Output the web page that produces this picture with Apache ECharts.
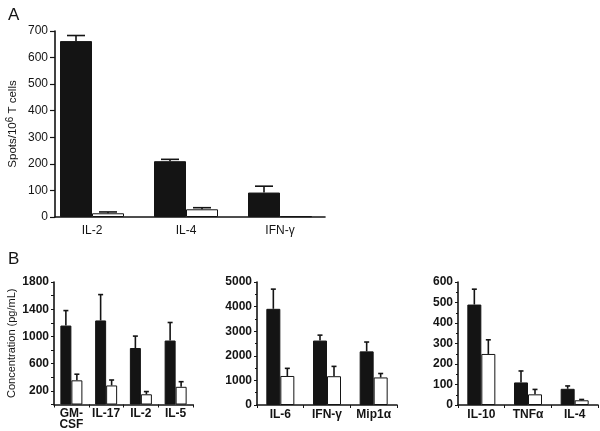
<!DOCTYPE html>
<html><head><meta charset="utf-8">
<script src="https://cdn.jsdelivr.net/npm/echarts@6/dist/echarts.min.js"></script>
<style>html,body{margin:0;padding:0;background:#fff}#c{width:600px;height:431px}</style>
</head><body><div id="c"></div>
<script>
// Panel A
const catsA = ['IL-2', 'IL-4', 'IFN-γ'];
const aBlack = [662, 210, 92];
const aBlackErr = [21, 7, 24];
const aWhite = [14, 29, 3];
const aWhiteErr = [5, 6, 0];
const ticksA = [0, 700, 100];
// Panel B1
const catsB1 = ['GM-\nCSF', 'IL-17', 'IL-2', 'IL-5'];
const b1Black = [1160, 1235, 830, 940];
const b1BlackErr = [220, 380, 175, 265];
const b1White = [355, 280, 150, 260];
const b1WhiteErr = [90, 80, 40, 75];
// Panel B2
const catsB2 = ['IL-6', 'IFN-γ', 'Mip1α'];
const b2Black = [3910, 2620, 2180];
const b2BlackErr = [800, 220, 380];
const b2White = [1180, 1170, 1120];
const b2WhiteErr = [310, 400, 160];
// Panel B3
const catsB3 = ['IL-10', 'TNFα', 'IL-4'];
const b3Black = [490, 110, 79];
const b3BlackErr = [75, 56, 14];
const b3White = [249, 52, 23];
const b3WhiteErr = [69, 24, 4];

const FONT = '"Liberation Sans", Arial, sans-serif';
const INK = '#141414';

function errRender(sign, barW, capW) {
  return function (params, api) {
    const x = api.value(0), v = api.value(1), e = api.value(2);
    if (!e) return null;
    const p0 = api.coord([x, v]);
    const p1 = api.coord([x, v + e]);
    const cx = p0[0] + sign * barW / 2;
    return {
      type: 'group',
      children: [
        { type: 'line', shape: { x1: cx, y1: p0[1], x2: cx, y2: p1[1] }, style: { stroke: INK, lineWidth: 1.6 } },
        { type: 'line', shape: { x1: cx - capW / 2, y1: p1[1], x2: cx + capW / 2, y2: p1[1] }, style: { stroke: INK, lineWidth: 1.6 } }
      ]
    };
  };
}

function barPair(gi, black, white, blackErr, whiteErr, barW, capW) {
  return [
    { type: 'bar', xAxisIndex: gi, yAxisIndex: gi, data: black, barWidth: barW, barGap: '0%',
      itemStyle: { color: INK, borderColor: INK, borderWidth: 1 }, animation: false },
    { type: 'bar', xAxisIndex: gi, yAxisIndex: gi, data: white, barWidth: barW, barGap: '0%',
      itemStyle: { color: '#fff', borderColor: INK, borderWidth: 1 }, animation: false },
    { type: 'custom', xAxisIndex: gi, yAxisIndex: gi, z: 5, animation: false,
      renderItem: errRender(-1, barW, capW), data: black.map((v, i) => [i, v, blackErr[i]]) },
    { type: 'custom', xAxisIndex: gi, yAxisIndex: gi, z: 5, animation: false,
      renderItem: errRender(1, barW, capW), data: white.map((v, i) => [i, v, whiteErr[i]]) }
  ];
}

const axisLineStyle = { show: true, lineStyle: { color: INK, width: 1.6 } };
const plain = v => String(v);

const chart = echarts.init(document.getElementById('c'), null, { renderer: 'canvas' });
chart.setOption({
  animation: false,
  backgroundColor: '#fff',
  title: [
    { text: 'A', left: 3, top: 2, textStyle: { fontFamily: FONT, fontSize: 17, fontWeight: 'normal', color: INK } },
    { text: 'B', left: 3, top: 246, textStyle: { fontFamily: FONT, fontSize: 17, fontWeight: 'normal', color: INK } }
  ],
  grid: [
    { left: 45, right: 273, top: 31, bottom: 214 },   // A bars
    { left: 55, right: 275, top: 31, bottom: 214 },   // A axes
    { left: 54, right: 407, top: 282, bottom: 26 },   // B1
    { left: 257, right: 203, top: 282, bottom: 26 },  // B2
    { left: 458, right: 2, top: 282, bottom: 26 }     // B3
  ],
  xAxis: [
    { gridIndex: 0, type: 'category', data: catsA, axisLine: { show: false }, axisTick: { show: false },
      axisLabel: { fontFamily: FONT, fontSize: 12, color: INK, margin: 8 } },
    { gridIndex: 1, type: 'value', min: 0, max: 1, axisLine: axisLineStyle, axisTick: { show: false },
      axisLabel: { show: false }, splitLine: { show: false } },
    { gridIndex: 2, type: 'category', data: catsB1, axisLine: axisLineStyle,
      axisTick: { show: true, length: 3, lineStyle: { color: INK } },
      axisLabel: { fontFamily: FONT, fontSize: 12, fontWeight: 'bold', color: INK, margin: 4, lineHeight: 11, interval: 0 } },
    { gridIndex: 3, type: 'category', data: catsB2, axisLine: axisLineStyle,
      axisTick: { show: true, length: 3, lineStyle: { color: INK } },
      axisLabel: { fontFamily: FONT, fontSize: 12, fontWeight: 'bold', color: INK, margin: 4, interval: 0 } },
    { gridIndex: 4, type: 'category', data: catsB3, axisLine: axisLineStyle,
      axisTick: { show: true, length: 3, lineStyle: { color: INK } },
      axisLabel: { fontFamily: FONT, fontSize: 12, fontWeight: 'bold', color: INK, margin: 4, interval: 0 } }
  ],
  yAxis: [
    { gridIndex: 0, type: 'value', min: ticksA[0], max: ticksA[1], interval: ticksA[2], show: false },
    { gridIndex: 1, type: 'value', min: ticksA[0], max: ticksA[1], interval: ticksA[2],
      axisLine: axisLineStyle, axisTick: { show: true, length: 5, lineStyle: { color: INK, width: 1.2 } },
      splitLine: { show: false },
      axisLabel: { fontFamily: FONT, fontSize: 12, color: INK, margin: 7, formatter: plain },
      name: 'Spots/10{sup|6} T cells', nameLocation: 'middle', nameGap: 34,
      nameTextStyle: { fontFamily: FONT, fontSize: 11.5, color: INK,
        rich: { sup: { fontFamily: FONT, fontSize: 10, color: INK, verticalAlign: 'top', padding: [0, 0, 6, 0] } } } },
    { gridIndex: 2, type: 'value', min: 0, max: 1800, interval: 200,
      axisLine: axisLineStyle, axisTick: { show: true, length: 3, lineStyle: { color: INK } },
      splitLine: { show: false },
      axisLabel: { fontFamily: FONT, fontSize: 12, fontWeight: 'bold', color: INK, margin: 5,
        formatter: v => ((v - 200) % 400 === 0 ? String(v) : '') },
      name: 'Concentration (pg/mL)', nameLocation: 'middle', nameGap: 37,
      nameTextStyle: { fontFamily: FONT, fontSize: 11, color: INK } },
    { gridIndex: 3, type: 'value', min: 0, max: 5000, interval: 1000,
      axisLine: axisLineStyle, axisTick: { show: true, length: 3, lineStyle: { color: INK } },
      minorTick: { show: true, splitNumber: 2, length: 2, lineStyle: { color: INK } },
      splitLine: { show: false },
      axisLabel: { fontFamily: FONT, fontSize: 12, fontWeight: 'bold', color: INK, margin: 5, formatter: plain } },
    { gridIndex: 4, type: 'value', min: 0, max: 600, interval: 100,
      axisLine: axisLineStyle, axisTick: { show: true, length: 3, lineStyle: { color: INK } },
      minorTick: { show: true, splitNumber: 2, length: 2, lineStyle: { color: INK } },
      splitLine: { show: false },
      axisLabel: { fontFamily: FONT, fontSize: 12, fontWeight: 'bold', color: INK, margin: 5, formatter: plain } }
  ],
  series: [
    ...barPair(0, aBlack, aWhite, aBlackErr, aWhiteErr, 32, 18),
    ...barPair(2, b1Black, b1White, b1BlackErr, b1WhiteErr, 11, 5),
    ...barPair(3, b2Black, b2White, b2BlackErr, b2WhiteErr, 14, 5),
    ...barPair(4, b3Black, b3White, b3BlackErr, b3WhiteErr, 14, 5)
  ]
});
</script>
</body></html>
